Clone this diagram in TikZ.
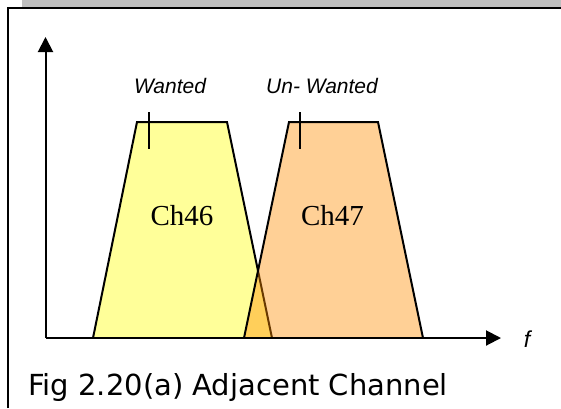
\documentclass[tikz,border=0pt]{standalone}
\usepackage{fontspec}
\setmainfont{Liberation Serif}
\newfontfamily\arialf{Liberation Sans}
\newfontfamily\capf{DejaVu Sans}
\usetikzlibrary{arrows.meta}
\definecolor{wantcol}{RGB}{255,255,153}
\definecolor{unwcol}{RGB}{255,140,0}
\definecolor{barcol}{RGB}{191,191,191}
\tikzset{
  axisline/.style={line width=2pt,-{Triangle[length=15pt,width=15pt]}},
  band/.style={line width=2pt,line join=miter},
  tickline/.style={line width=1.5pt},
  lbl/.style={font=\arialf\itshape\fontsize{21}{25}\selectfont,inner sep=0pt},
  chlbl/.style={font=\fontsize{29}{33}\selectfont,inner sep=0pt}
}
\begin{document}
\begin{tikzpicture}[x=1pt,y=-1pt]
\useasboundingbox (0,0) rectangle (561,408);
% grey bar and frame
\fill[barcol] (22,0) rectangle (561,7);
\draw[line width=2pt] (7.5,408) -- (7.5,8) -- (561,8);
% wanted channel
\fill[wantcol] (93,338) -- (137,122) -- (227,122) -- (272,338) -- cycle;
\draw[band] (93,338) -- (137,122) -- (227,122) -- (272,338);
% unwanted channel (semi-transparent)
\fill[unwcol,fill opacity=0.41] (244,338) -- (289,122) -- (378,122) -- (423,338) -- cycle;
\draw[band] (244,338) -- (289,122) -- (378,122) -- (423,338);
% ticks
\draw[tickline] (149,112) -- (149,149);
\draw[tickline] (300,112) -- (300,149);
% axes
\coordinate (o) at (45.5,338);
\coordinate (ytip) at (45.5,37);
\coordinate (xtip) at (501,338);
\draw[axisline] (o) -- (ytip);
\draw[axisline] (o) -- (xtip);
% labels
\node[lbl] (w) at (170,86) {Wanted};
\node[lbl] (uw) at (322,86) {Un- Wanted};
\node[chlbl] (c46) at (182,216) {Ch46};
\node[chlbl] (c47) at (332.5,216) {Ch47};
\node[lbl,font=\arialf\itshape\fontsize{23}{27}\selectfont] (f) at (527,339) {f};
\node[anchor=base west,inner sep=0pt,font=\capf\fontsize{29}{33}\selectfont] (cap) at (28,395) {Fig 2.20(a) Adjacent Channel};
\end{tikzpicture}
\end{document}
